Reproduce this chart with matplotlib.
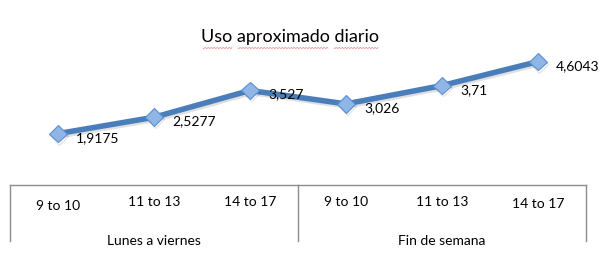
import matplotlib
matplotlib.use("Agg")
import numpy as np
import matplotlib.pyplot as plt
import matplotlib.transforms as mtransforms
import matplotlib.patheffects as pe

franjas = ["9 to 10", "11 to 13", "14 to 17", "9 to 10", "11 to 13", "14 to 17"]
grupos = ["Lunes a viernes", "Fin de semana"]
valores = [1.9175, 2.5277, 3.527, 3.026, 3.71, 4.6043]
etiquetas = ["1,9175", "2,5277", "3,527", "3,026", "3,71", "4,6043"]

plt.rcParams["font.family"] = ["Lato", "DejaVu Sans"]

W, H = 601, 261
fig = plt.figure(figsize=(W / 100, H / 100), dpi=100)
ax = fig.add_axes([10 / W, 1 - 185 / H, 576 / W, 134 / H])
ax.set_xlim(-0.5, len(valores) - 0.5)
ax.set_ylim(0, 5)
ax.set_xticks([])
ax.set_yticks([])
for s in ("top", "left", "right"):
    ax.spines[s].set_visible(False)
ax.spines["bottom"].set_color("#8c8c8c")
ax.spines["bottom"].set_linewidth(1)

x = list(range(len(valores)))
ax.plot(x, valores, color="#4a7ebb", lw=4, solid_joinstyle="round",
        marker="D", ms=9, mfc="#8fb6e6", mec="#5b8fcf", mew=0.8,
        path_effects=[pe.SimpleLineShadow(offset=(1, -1.5), alpha=0.12), pe.Normal()],
        zorder=3)

for xi, v, lab in zip(x, valores, etiquetas):
    ax.annotate(lab, (xi, v), xytext=(13, -3), textcoords="offset points",
                ha="left", va="center", fontsize=10, color="black")

# category axis: two-level labels with separators
tr = mtransforms.blended_transform_factory(ax.transData, ax.transAxes)
dy = [-0.16, -0.125, -0.13, -0.125, -0.13, -0.145]
for xi, lab, d in zip(x, franjas, dy):
    ax.text(xi, d, lab, transform=tr, ha="center", va="center", fontsize=10)
for sep in (-0.5, 2.5, 5.5):
    ax.plot([sep, sep], [0, -0.42], transform=tr, color="#8c8c8c", lw=1, clip_on=False)
for i, g in enumerate(grupos):
    ax.text(3 * i + 1, -0.42, g, transform=tr, ha="center", va="center", fontsize=10)

fig.text(290 / W, 1 - 37 / H, "Uso aproximado diario", ha="center", va="center",
         fontsize=13, color="black")

# spell-check squiggles under the title words
for x0, x1 in [(203, 232), (238, 328), (334, 378)]:
    xs = np.arange(x0, x1 + 0.5, 0.5)
    ys = 48 + 0.6 * np.sin((xs - x0) * np.pi / 1.5)
    fig.add_artist(plt.Line2D(xs / W, 1 - ys / H, color="#e85050", lw=0.5, alpha=0.7,
                              transform=fig.transFigure))

fig.savefig("out.png", dpi=100)
